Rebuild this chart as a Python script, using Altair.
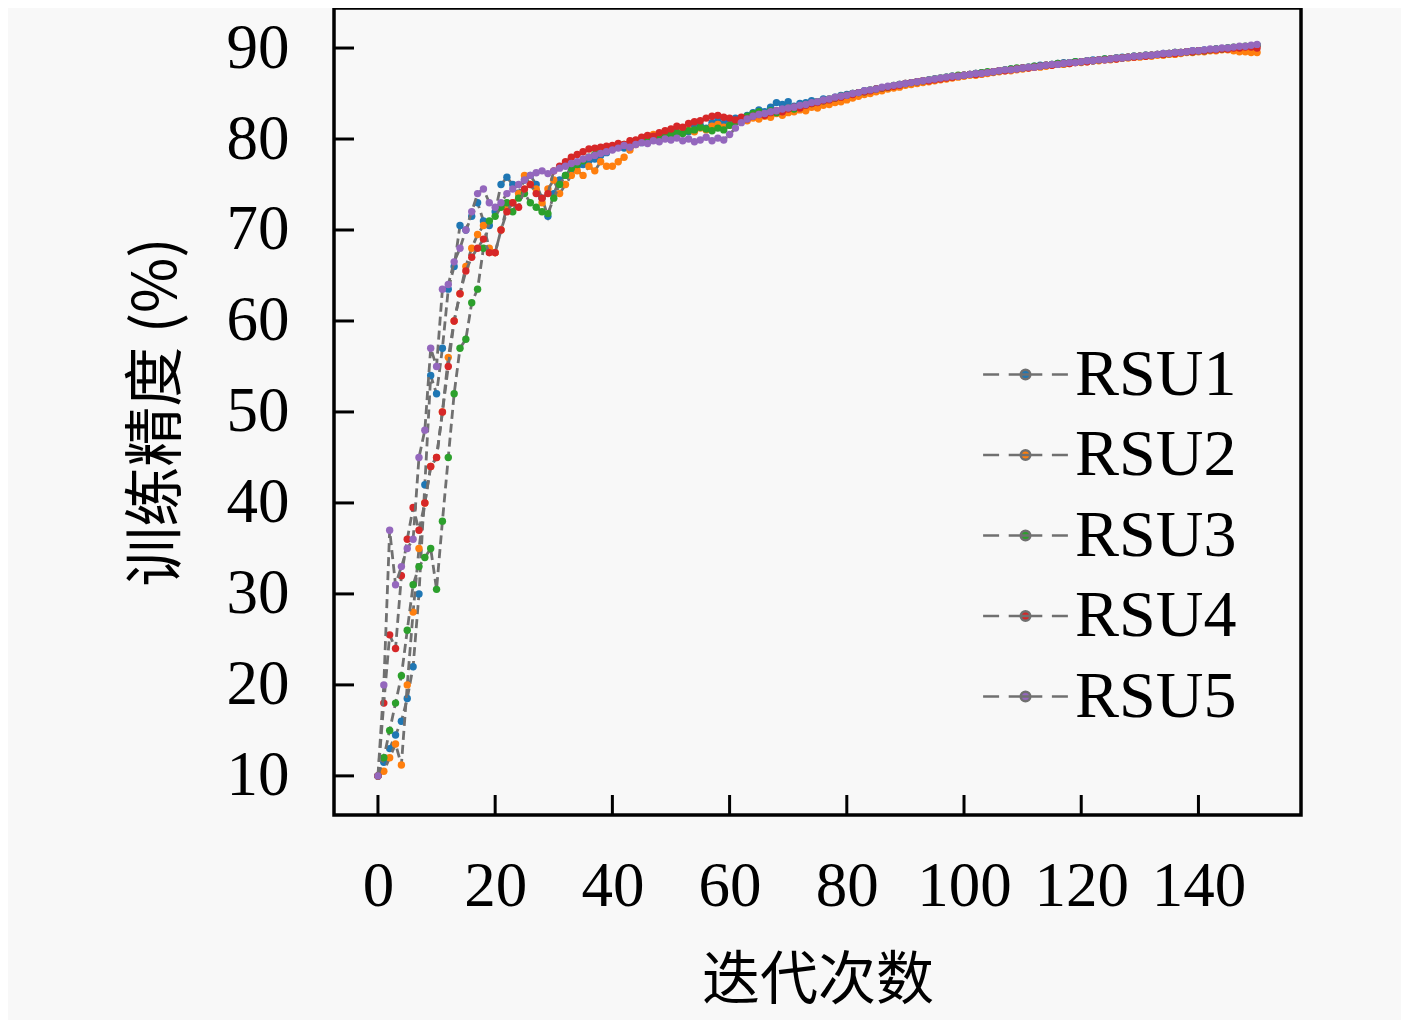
import altair as alt
import pandas as pd

series_names = ["RSU1", "RSU2", "RSU3", "RSU4", "RSU5"]
series_colors = ["#1f77b4", "#ff7f0e", "#2ca02c", "#d62728", "#9467bd"]

rsu1 = [10.0, 11.5, 13.0, 14.5, 16.0, 18.5, 22.0, 30.0, 42.0, 54.0,
        52.0, 57.0, 63.5, 66.0, 70.5, 70.0, 71.5, 73.0, 71.0, 70.5,
        72.0, 75.0, 75.8, 75.0, 74.0, 75.5, 76.0, 75.0, 73.5, 71.5,
        74.0, 75.5, 76.0, 76.5, 77.0, 77.2, 77.6, 77.8, 78.2, 78.5,
        78.9, 79.2, 79.0, 79.5, 79.8, 79.6, 80.0, 80.3, 80.1, 80.6,
        80.4, 80.9, 81.0, 80.8, 81.3, 81.5, 81.2, 81.8, 82.0, 81.7,
        82.1, 82.3, 82.0, 82.6, 82.9, 83.2, 83.0, 83.5, 84.0, 83.8,
        84.1, 83.6, 83.9, 84.0, 84.2, 84.1, 84.4, 84.3, 84.6, 84.8,
        84.9, 85.0, 85.1, 85.3, 85.2, 85.5, 85.6, 85.7, 85.8, 86.0,
        86.0, 86.2, 86.3, 86.3, 86.5, 86.6, 86.6, 86.8, 86.9, 86.9,
        87.0, 87.1, 87.2, 87.3, 87.3, 87.4, 87.5, 87.6, 87.7, 87.7,
        87.8, 87.9, 88.0, 88.1, 88.1, 88.2, 88.3, 88.4, 88.4, 88.5,
        88.5, 88.6, 88.7, 88.7, 88.8, 88.8, 88.9, 89.0, 89.0, 89.1,
        89.1, 89.2, 89.2, 89.3, 89.4, 89.4, 89.5, 89.5, 89.6, 89.7,
        89.7, 89.8, 89.8, 89.9, 89.9, 90.0, 90.0, 90.1, 90.1, 90.2, 90.3]

rsu2 = [10.0, 10.5, 12.0, 13.5, 11.2, 20.0, 28.0, 35.0, 40.0, 44.0,
        45.0, 50.0, 56.0, 60.0, 63.0, 66.0, 68.0, 69.5, 70.5, 68.0,
        67.5, 70.0, 72.5, 73.0, 74.0, 76.0, 75.0, 74.5, 73.0, 74.5,
        75.5, 74.0, 75.0, 76.0, 76.5, 76.0, 77.0, 76.5, 77.5, 77.0,
        77.0, 77.5, 78.0, 78.8, 79.4, 79.8, 80.2, 80.5, 80.3, 80.4,
        80.6, 80.5, 80.9, 81.0, 80.8, 81.2, 81.0, 81.4, 81.6, 81.3,
        81.5, 81.9, 82.1, 82.0, 82.3, 82.2, 82.5, 82.4, 82.8, 82.6,
        82.9, 83.0, 83.2, 83.1, 83.5, 83.4, 83.7, 83.8, 84.0, 84.1,
        84.3, 84.5, 84.7, 84.9, 85.0, 85.2, 85.3, 85.5, 85.6, 85.7,
        85.9, 86.0, 86.1, 86.2, 86.3, 86.4, 86.5, 86.6, 86.7, 86.8,
        86.9, 87.0, 87.0, 87.1, 87.2, 87.3, 87.4, 87.5, 87.5, 87.6,
        87.7, 87.8, 87.9, 87.9, 88.0, 88.1, 88.2, 88.2, 88.3, 88.4,
        88.4, 88.5, 88.6, 88.6, 88.7, 88.7, 88.8, 88.9, 88.9, 89.0,
        89.0, 89.1, 89.1, 89.2, 89.2, 89.3, 89.3, 89.4, 89.5, 89.5,
        89.6, 89.6, 89.7, 89.7, 89.8, 89.8, 89.7, 89.6, 89.6, 89.5, 89.5]

rsu3 = [10.0, 12.0, 15.0, 18.0, 21.0, 26.0, 31.0, 33.0, 34.0, 35.0,
        30.5, 38.0, 45.0, 52.0, 57.0, 58.0, 62.0, 63.5, 68.0, 71.0,
        71.5, 72.5, 73.0, 72.0, 73.5, 74.0, 73.0, 72.5, 72.0, 71.8,
        73.5, 75.0, 76.0, 76.8, 77.2, 77.6, 78.0, 78.3, 78.6, 78.9,
        79.0, 79.2, 79.4, 79.3, 79.6, 79.8, 80.0, 79.9, 80.2, 80.4,
        80.5, 80.7, 80.6, 80.9, 81.0, 81.3, 81.1, 80.9, 81.2, 81.0,
        81.5, 81.9, 82.2, 82.5, 82.8, 83.0, 82.8, 83.1, 82.9, 83.2,
        83.4, 83.3, 83.6, 83.8, 83.9, 84.1, 84.2, 84.4, 84.5, 84.7,
        84.8, 85.0, 85.1, 85.2, 85.4, 85.5, 85.6, 85.7, 85.9, 86.0,
        86.1, 86.2, 86.3, 86.4, 86.5, 86.6, 86.7, 86.8, 86.9, 87.0,
        87.0, 87.1, 87.2, 87.3, 87.4, 87.4, 87.5, 87.6, 87.7, 87.8,
        87.8, 87.9, 88.0, 88.0, 88.1, 88.2, 88.3, 88.3, 88.4, 88.5,
        88.5, 88.6, 88.6, 88.7, 88.8, 88.8, 88.9, 88.9, 89.0, 89.1,
        89.1, 89.2, 89.2, 89.3, 89.3, 89.4, 89.5, 89.5, 89.6, 89.6,
        89.7, 89.7, 89.8, 89.9, 89.9, 90.0, 90.1, 90.1, 90.2, 90.2, 90.3]

rsu4 = [10.0, 18.0, 25.5, 24.0, 32.0, 36.0, 39.5, 37.0, 40.0, 44.0,
        45.0, 50.0, 55.0, 60.0, 63.0, 65.5, 67.0, 68.0, 69.0, 67.5,
        67.5, 70.0, 72.0, 73.0, 72.5, 74.5, 75.0, 74.0, 73.5, 74.0,
        76.5, 77.0, 77.5, 78.0, 78.3, 78.6, 78.9, 79.0, 79.1, 79.2,
        79.3, 79.5, 79.4, 79.8, 79.9, 80.2, 80.4, 80.3, 80.7, 80.9,
        81.1, 81.4, 81.3, 81.7, 81.9, 82.0, 82.3, 82.5, 82.6, 82.4,
        82.3, 82.1, 82.4, 82.2, 82.5, 82.7, 82.6, 82.9, 83.1, 83.0,
        83.3, 83.5, 83.4, 83.7, 83.9, 84.0, 84.2, 84.3, 84.5, 84.6,
        84.8, 84.9, 85.1, 85.2, 85.3, 85.5, 85.6, 85.7, 85.8, 85.9,
        86.1, 86.2, 86.3, 86.4, 86.4, 86.5, 86.6, 86.7, 86.8, 86.9,
        87.0, 87.1, 87.1, 87.2, 87.3, 87.4, 87.5, 87.5, 87.6, 87.7,
        87.8, 87.8, 87.9, 88.0, 88.1, 88.1, 88.2, 88.3, 88.3, 88.4,
        88.5, 88.5, 88.6, 88.7, 88.7, 88.8, 88.8, 88.9, 89.0, 89.0,
        89.1, 89.1, 89.2, 89.3, 89.3, 89.4, 89.4, 89.5, 89.6, 89.6,
        89.7, 89.7, 89.8, 89.8, 89.9, 89.9, 90.0, 90.0, 90.1, 90.1, 90.0]

rsu5 = [10.0, 20.0, 37.0, 31.0, 33.0, 35.0, 36.0, 45.0, 48.0, 57.0,
        55.0, 63.5, 64.0, 66.5, 68.0, 70.0, 72.0, 74.0, 74.5, 73.0,
        72.5, 73.0, 74.0, 74.5, 75.0, 75.5, 76.0, 76.3, 76.5, 76.2,
        76.5, 76.8, 77.0, 77.3, 77.5, 77.8, 78.0, 78.2, 78.4, 78.6,
        78.8, 79.0, 79.3, 79.1, 79.4, 79.6, 79.5, 79.8, 79.7, 80.0,
        79.9, 80.1, 79.8, 80.0, 79.7, 79.9, 80.2, 79.8, 80.1, 79.9,
        80.5, 81.2, 81.8, 82.2, 82.5, 82.7, 82.8, 83.0, 83.1, 83.3,
        83.4, 83.5, 83.7, 83.8, 84.0, 84.1, 84.3, 84.4, 84.6, 84.7,
        84.8, 85.0, 85.1, 85.3, 85.4, 85.5, 85.7, 85.8, 85.9, 86.0,
        86.1, 86.2, 86.3, 86.4, 86.5, 86.6, 86.7, 86.8, 86.9, 86.9,
        87.0, 87.1, 87.2, 87.2, 87.3, 87.4, 87.5, 87.6, 87.6, 87.7,
        87.8, 87.9, 87.9, 88.0, 88.1, 88.2, 88.2, 88.3, 88.4, 88.4,
        88.5, 88.6, 88.6, 88.7, 88.7, 88.8, 88.9, 88.9, 89.0, 89.1,
        89.1, 89.2, 89.2, 89.3, 89.4, 89.4, 89.5, 89.5, 89.6, 89.7,
        89.7, 89.8, 89.9, 89.9, 90.0, 90.0, 90.1, 90.2, 90.2, 90.3, 90.4]

x_ticks = [0, 20, 40, 60, 80, 100, 120, 140]
y_ticks = [10, 20, 30, 40, 50, 60, 70, 80, 90]

all_series = [rsu1, rsu2, rsu3, rsu4, rsu5]
rows = []
for name, vals in zip(series_names, all_series):
    for i, v in enumerate(vals):
        rows.append({"series": name, "it": i, "acc": v})
df = pd.DataFrame(rows)

W, H = 967, 807
TICK = 20
xscale = alt.Scale(domain=[-7.5, 157.5], nice=False, zero=False)
yscale = alt.Scale(domain=[5.7, 94.4], nice=False, zero=False)
cscale = alt.Scale(domain=series_names, range=series_colors)

xaxis = alt.Axis(values=x_ticks, title="迭代次数", titleFont="Noto Sans CJK SC",
                 titleFontSize=58, titleFontWeight="normal", titleColor="black",
                 labelFont="Liberation Serif", labelFontSize=63, labelColor="black",
                 labelPadding=40, titlePadding=34, ticks=False, tickSize=0,
                 domain=False, grid=False, labelFlush=False)
yaxis = alt.Axis(values=y_ticks, title="训练精度 (%)", titleFont="Noto Sans CJK SC",
                 titleFontSize=60, titleFontWeight="normal", titleColor="black",
                 labelFont="Liberation Serif", labelFontSize=63, labelColor="black",
                 labelPadding=45, titlePadding=38, ticks=False, tickSize=0,
                 domain=False, grid=False, labelFlush=False)

legend_path = ("M-1.06,0L-0.66,0M-0.42,0L0.42,0M0.66,0L1.06,0"
               "M-0.12,0A0.12,0.12 0 1 1 0.12,0A0.12,0.12 0 1 1 -0.12,0Z")
legend = alt.Legend(title=None, orient="none", legendX=650, legendY=325,
                    labelFont="Liberation Serif", labelFontSize=66, labelColor="black",
                    labelLimit=0, symbolType=legend_path, symbolSize=6400,
                    symbolStrokeColor="#707070", symbolStrokeWidth=2.5,
                    rowPadding=5.5, labelOffset=8, padding=0)

layers = []
for name in series_names:
    sub = df[df["series"] == name]
    base = alt.Chart(sub)
    line = base.mark_line(strokeDash=[9, 5], color="#707070", strokeWidth=2.8).encode(
        x=alt.X("it:Q", scale=xscale, axis=xaxis),
        y=alt.Y("acc:Q", scale=yscale, axis=yaxis),
        order="it:Q",
    )
    pts = base.mark_point(filled=True, size=55, opacity=1).encode(
        x=alt.X("it:Q", scale=xscale, axis=xaxis),
        y=alt.Y("acc:Q", scale=yscale, axis=yaxis),
        color=alt.Color("series:N", scale=cscale, legend=legend),
    )
    layers += [line, pts]

xt = alt.Chart(pd.DataFrame({"t": x_ticks})).mark_rule(color="black", strokeWidth=3).encode(
    x=alt.X("t:Q", scale=xscale, axis=xaxis), y=alt.value(H), y2=alt.value(H - TICK))
yt = alt.Chart(pd.DataFrame({"t": y_ticks})).mark_rule(color="black", strokeWidth=3).encode(
    y=alt.Y("t:Q", scale=yscale, axis=yaxis), x=alt.value(0), x2=alt.value(TICK))

chart = alt.layer(*layers, xt, yt).properties(
    width=W, height=H,
    padding={"left": 119, "top": 0, "right": 100, "bottom": 10},
    background="#f8f8f8",
).configure_view(stroke="black", strokeWidth=3.5, fill="#f8f8f8")

chart.save("out.html", embed_options={"renderer": "svg", "actions": False})
